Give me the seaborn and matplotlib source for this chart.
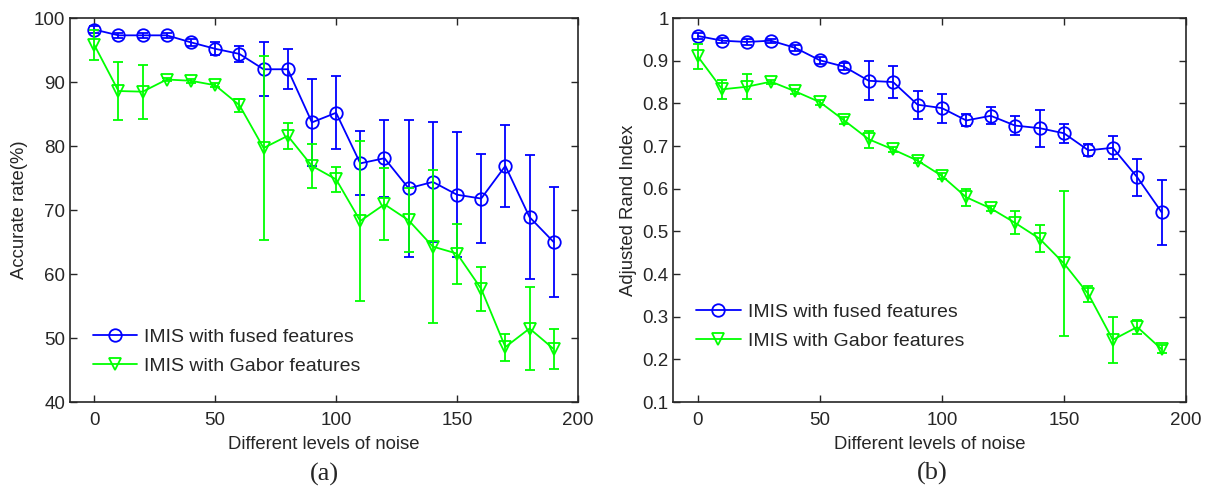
import numpy as np
import pandas as pd
import seaborn as sns
import matplotlib.pyplot as plt

noise = [0, 10, 20, 30, 40, 50, 60, 70, 80, 90, 100, 110, 120, 130, 140, 150, 160, 170, 180, 190]

# (a) accurate rate
acc_fused = [98.2, 97.3, 97.3, 97.3, 96.2, 95.2, 94.4, 92.0, 92.0, 83.7, 85.2, 77.3, 78.1, 73.4, 74.4, 72.4, 71.8, 76.9, 68.9, 65.0]
acc_fused_err = [0.5, 0.4, 0.4, 0.4, 0.5, 1.0, 1.2, 4.2, 3.1, 6.8, 5.7, 5.0, 6.0, 10.7, 9.4, 9.8, 6.9, 6.4, 9.7, 8.6]
acc_gabor = [95.8, 88.6, 88.5, 90.4, 90.2, 89.5, 86.4, 79.7, 81.6, 76.9, 74.8, 68.3, 70.9, 68.4, 64.3, 63.2, 57.7, 48.6, 51.5, 48.3]
acc_gabor_err = [2.4, 4.5, 4.2, 0.3, 0.3, 0.3, 1.0, 14.3, 2.0, 3.4, 1.9, 12.5, 5.6, 5.0, 12.0, 4.7, 3.4, 2.1, 6.5, 3.2]

# (b) adjusted rand index
ari_fused = [0.958, 0.947, 0.944, 0.947, 0.930, 0.901, 0.886, 0.853, 0.850, 0.797, 0.789, 0.760, 0.771, 0.748, 0.742, 0.730, 0.690, 0.696, 0.627, 0.545]
ari_fused_err = [0.006, 0.006, 0.008, 0.005, 0.008, 0.008, 0.008, 0.046, 0.038, 0.033, 0.034, 0.014, 0.020, 0.022, 0.043, 0.022, 0.014, 0.027, 0.043, 0.076]
ari_gabor = [0.910, 0.833, 0.839, 0.851, 0.828, 0.803, 0.760, 0.716, 0.692, 0.666, 0.630, 0.580, 0.554, 0.520, 0.483, 0.425, 0.353, 0.246, 0.276, 0.224]
ari_gabor_err = [0.030, 0.023, 0.029, 0.005, 0.006, 0.006, 0.008, 0.020, 0.006, 0.006, 0.006, 0.020, 0.006, 0.027, 0.032, 0.170, 0.018, 0.054, 0.016, 0.010]

labels = ['IMIS with fused features', 'IMIS with Gabor features']
colors = ['#0000ff', '#00ff00']
marks = ['o', 'v']

sns.set_style('ticks')
plt.rcParams['font.family'] = ['Liberation Sans', 'DejaVu Sans']
plt.rcParams['xtick.direction'] = 'in'
plt.rcParams['ytick.direction'] = 'in'

fig = plt.figure(figsize=(12.09, 4.88), dpi=100)
ax1 = fig.add_axes([0.058, 0.176, 0.420, 0.787])
ax2 = fig.add_axes([0.557, 0.176, 0.424, 0.787])


def draw(ax, y1, e1, y2, e2):
    for y, e, c, m, lab in zip([y1, y2], [e1, e2], colors, marks, labels):
        ax.errorbar(noise, y, yerr=e, fmt='none', ecolor=c, elinewidth=1.3, capsize=3.5, capthick=1.3)
        df = pd.DataFrame({'noise': noise, 'value': y})
        sns.lineplot(data=df, x='noise', y='value', color=c, marker=m, label=lab,
                     markersize=9, linewidth=1.3, ax=ax)
    for line in ax.lines:
        if line.get_marker() in marks:
            line.set_markerfacecolor('none')
            line.set_markeredgecolor(line.get_color())
            line.set_markeredgewidth(1.3)
    ax.set_xlim(-10, 200)
    ax.set_xticks([0, 50, 100, 150, 200])
    ax.tick_params(top=True, right=True, labelsize=13.5, length=5, width=1)
    ax.tick_params(axis='x', pad=7)
    for s in ax.spines.values():
        s.set_linewidth(1.2)
    ax.set_xlabel('Different levels of noise', fontsize=13.3, labelpad=5)


def style_legend(ax, y0):
    leg = ax.legend(loc='lower left', bbox_to_anchor=(0.01, y0), frameon=False, fontsize=14,
                    handlelength=2.3, handletextpad=0.35, labelspacing=0.6)
    for h, c in zip(leg.legend_handles, colors):
        h.set_markerfacecolor('none')
        h.set_markeredgecolor(c)
        h.set_markeredgewidth(1.3)


draw(ax1, acc_fused, acc_fused_err, acc_gabor, acc_gabor_err)
ax1.set_ylim(40, 100)
ax1.set_yticks([40, 50, 60, 70, 80, 90, 100])
ax1.set_ylabel('Accurate rate(%)', fontsize=13.3)
style_legend(ax1, 0.025)

draw(ax2, ari_fused, ari_fused_err, ari_gabor, ari_gabor_err)
ax2.set_ylim(0.1, 1.0)
ax2.set_yticks(np.round(np.arange(0.1, 1.01, 0.1), 1))
ax2.set_yticklabels(['0.1', '0.2', '0.3', '0.4', '0.5', '0.6', '0.7', '0.8', '0.9', '1'])
ax2.set_ylabel('Adjusted Rand Index', fontsize=13.3)
style_legend(ax2, 0.09)

fig.text(0.268, 0.016, '(a)', ha='center', fontsize=19, family='Liberation Serif')
fig.text(0.771, 0.018, '(b)', ha='center', fontsize=19, family='Liberation Serif')

fig.savefig('out.png', dpi=100)
